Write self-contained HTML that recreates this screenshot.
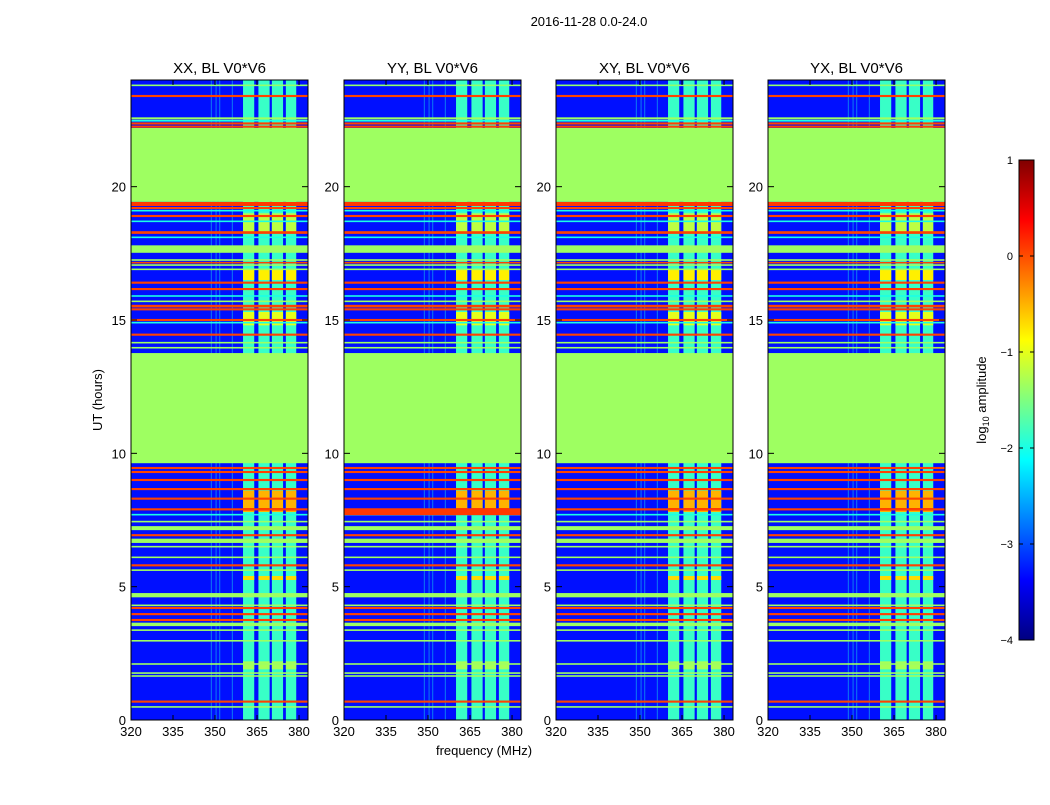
<!DOCTYPE html>
<html><head><meta charset="utf-8"><style>
body{margin:0;background:#fff;font-family:"Liberation Sans",sans-serif}
svg text{font-family:"Liberation Sans",sans-serif}
</style></head><body>
<svg id="fig" width="1050" height="800" xmlns="http://www.w3.org/2000/svg">
<rect width="1050" height="800" fill="#fff"/>
<text x="589" y="26" font-size="13" text-anchor="middle">2016-11-28 0.0-24.0</text>
<text x="102" y="400" font-size="13" text-anchor="middle" transform="rotate(-90 102 400)">UT (hours)</text>
<text x="484" y="755" font-size="13" text-anchor="middle">frequency (MHz)</text>
<defs><linearGradient id="jet" x1="0" y1="1" x2="0" y2="0">
<stop offset="0" stop-color="#000080"/><stop offset="0.125" stop-color="#0000ff"/><stop offset="0.375" stop-color="#00ffff"/><stop offset="0.625" stop-color="#ffff00"/><stop offset="0.875" stop-color="#ff0000"/><stop offset="1" stop-color="#800000"/></linearGradient></defs>
<g id="panels"></g>
<rect x="1019" y="160" width="15" height="480" fill="url(#jet)" stroke="#000" stroke-width="1"/>
<g id="cbticks"></g>
<text x="986" y="400" font-size="13" text-anchor="middle" transform="rotate(-90 986 400)">log<tspan font-size="9" dy="3">10</tspan><tspan dy="-3"> amplitude</tspan></text>
</svg>
<script>
const panelTitles = ["XX, BL V0*V6","YY, BL V0*V6","XY, BL V0*V6","YX, BL V0*V6"];
const panelLefts = [131,344,556,768];
const xTicks = [320,335,350,365,380];
const yTicks = [0,5,10,15,20];
const cbTicks = [1,0,-1,-2,-3,-4];
const bgValue = -3.3;
const greenBlocks = [[19.43,22.2],[9.63,13.76],[17.52,17.8],[7.12,7.27],[6.64,6.8],[4.6,4.76],[3.52,3.65]];
const greenValue = -1.35;
const colBands = [[360,364],[365.5,369.5],[370.3,374.3],[375.3,379]];
const colValue = -1.85;
const vertLines = [348.5,350.2,351.5,356];
const vertValue = -2.0;
const activity = [[16.5,16.9,-0.8],[14.8,15.3,-1.0],[18.3,19.0,-1.2],[7.8,8.6,-0.5],[7.85,7.95,0.1],[5.25,5.4,-0.7],[1.9,2.2,-1.3]];
const lineHours = [23.8,23.4,22.56,22.47,22.37,22.25,19.35,19.2,19.1,18.9,18.7,18.28,18.1,17.25,17.15,17.06,16.9,16.4,16.16,15.9,15.7,15.52,15.4,15.0,14.9,14.45,14.15,13.96,9.45,9.3,9.0,8.66,8.3,7.9,7.7,7.44,6.93,6.5,6.1,5.8,5.62,4.3,4.2,3.97,3.75,3.37,2.97,2.1,1.76,1.65,0.69,0.49];
const lineValues = [-1.4,0.05,-1.35,-2.0,0.05,0.05,0.1,0.05,-2.0,0.05,-2.0,0.05,-2.0,-1.35,0.05,-1.35,-1.35,0.05,0.05,-2.0,-1.35,0.05,0.05,0.05,-2.0,0.05,-1.35,-1.35,0.05,0.05,0.05,0.05,0.05,0.05,-2.0,-1.35,0.05,-1.35,-1.35,0.05,-1.35,-1.35,0.05,0.05,0.05,-1.35,-1.35,-1.35,-1.35,-1.35,0.05,-1.35];
const lineWidths = [0.06,0.08,0.08,0.06,0.08,0.08,0.15,0.08,0.06,0.08,0.06,0.1,0.06,0.06,0.06,0.06,0.06,0.08,0.08,0.06,0.06,0.1,0.08,0.08,0.06,0.08,0.06,0.06,0.08,0.08,0.08,0.08,0.08,0.08,0.06,0.06,0.08,0.06,0.06,0.08,0.06,0.06,0.08,0.08,0.08,0.06,0.06,0.06,0.06,0.06,0.08,0.06];
const yyBand = [7.68,7.92,0.1];

function jet(v){
  let t=(v+4)/5; t=Math.max(0,Math.min(1,t));
  let r,g,b;
  if(t<0.125){r=0;g=0;b=0.5+4*t;}
  else if(t<0.375){r=0;g=4*t-0.5;b=1;}
  else if(t<0.625){r=4*t-1.5;g=1;b=2.5-4*t;}
  else if(t<0.875){r=1;g=3.5-4*t;b=0;}
  else {r=4.5-4*t;g=0;b=0;}
  const h=x=>Math.round(Math.max(0,Math.min(1,x))*255);
  return `rgb(${h(r)},${h(g)},${h(b)})`;
}
const NS="http://www.w3.org/2000/svg";
function mk(tag,attrs,parent){const e=document.createElementNS(NS,tag);for(const k in attrs)e.setAttribute(k,attrs[k]);parent.appendChild(e);return e;}
const W=177, TOP=80, BOT=720, FMIN=320, FMAX=383.2, HMAX=24;
const panelsG=document.getElementById('panels');
panelLefts.forEach((L,pi)=>{
  const xs=f=>L+(f-FMIN)/(FMAX-FMIN)*W;
  const ys=h=>BOT-h/HMAX*(BOT-TOP);
  const g=mk('g',{},panelsG);
  
  
  const bg=mk('rect',{x:L,y:TOP,width:W,height:BOT-TOP,fill:jet(bgValue)},g);
  
  
  colBands.forEach(c=>{
    const r=mk('rect',{x:xs(c[0]),y:TOP,width:xs(c[1])-xs(c[0]),height:BOT-TOP,fill:jet(colValue)},g);
    
    
    activity.forEach(a=>{
      const q=mk('rect',{x:xs(c[0]),y:ys(a[1]),width:xs(c[1])-xs(c[0]),height:ys(a[0])-ys(a[1]),fill:jet(a[2])},g);
      
      
    });
  });
  vertLines.forEach(f=>{
    const r=mk('rect',{x:xs(f),y:TOP,width:1,height:BOT-TOP,fill:jet(vertValue),opacity:0.45},g);
    
    
  });
  lineHours.forEach((h,i)=>{
    const y1=ys(h+lineWidths[i]/2), y2=ys(h-lineWidths[i]/2);
    const r=mk('rect',{x:L,y:y1,width:W,height:Math.max(1.3,y2-y1),fill:jet(lineValues[i])},g);
    
    
  });
  greenBlocks.forEach(b=>{
    const r=mk('rect',{x:L,y:ys(b[1]),width:W,height:ys(b[0])-ys(b[1]),fill:jet(greenValue)},g);
    
    
  });
  if(pi===1){
    const r=mk('rect',{x:L,y:ys(yyBand[1]),width:W,height:ys(yyBand[0])-ys(yyBand[1]),fill:jet(yyBand[2])},g);
    
    
  }
  const fr=mk('rect',{x:L,y:TOP,width:W,height:BOT-TOP,fill:'none',stroke:'#000','stroke-width':1},g);
  
  
  const t=mk('text',{x:L+W/2,y:TOP-7,'font-size':15,'text-anchor':'middle'},g);
  t.textContent=panelTitles[pi];
  
  
  xTicks.forEach(v=>{
    const x=xs(v);
    mk('line',{x1:x,y1:BOT,x2:x,y2:BOT-5,stroke:'#000'},g);
    mk('line',{x1:x,y1:TOP,x2:x,y2:TOP+5,stroke:'#000'},g);
    const tt=mk('text',{x:x,y:BOT+16,'font-size':13,'text-anchor':'middle'},g);
    tt.textContent=v;
    
    
  });
  yTicks.forEach(v=>{
    const y=ys(v);
    mk('line',{x1:L,y1:y,x2:L+6,y2:y,stroke:'#000'},g);
    mk('line',{x1:L+W,y1:y,x2:L+W-6,y2:y,stroke:'#000'},g);
    const tt=mk('text',{x:L-5,y:y+5,'font-size':13,'text-anchor':'end'},g);
    tt.textContent=v;
    
    
  });
});
const cb=document.getElementById('cbticks');
cbTicks.forEach(v=>{
  const y=640-(v+4)/5*480;
  mk('line',{x1:1019,y1:y,x2:1023,y2:y,stroke:'#000'},cb);
  mk('line',{x1:1034,y1:y,x2:1030,y2:y,stroke:'#000'},cb);
  const tt=mk('text',{x:1013,y:y+4,'font-size':11,'text-anchor':'end'},cb);
  tt.textContent=(v<0?'\u2212'+(-v):v);
  
  
});
</script>
</body></html>
